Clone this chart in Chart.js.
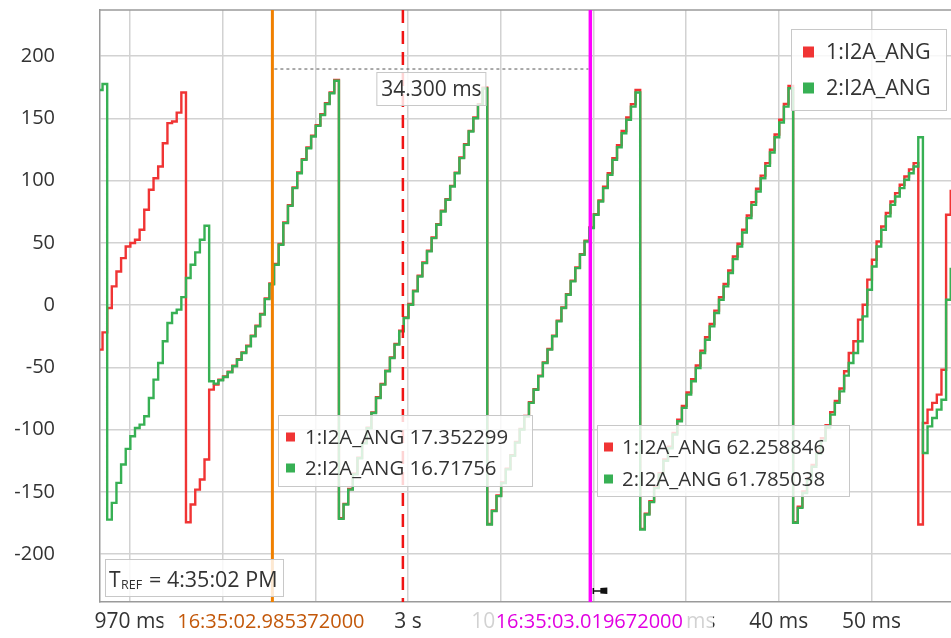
<!DOCTYPE html>
<html>
<head>
<meta charset="utf-8">
<title>I2A_ANG</title>
<script src="https://cdn.jsdelivr.net/npm/chart.js@4.4.1/dist/chart.umd.min.js"></script>
<style>
    html, body { margin: 0; padding: 0; background: #ffffff; overflow: hidden; }
    #wrap { position: relative; width: 951px; height: 638px; }
</style>
</head>
<body>
<div id="wrap"><canvas id="angleChart"></canvas></div>
<script>
/*
    Recorded samples (ms after 16:35:00), 0.5 ms sample clock
*/

const SAMPLE_START = 2966.55;

const SAMPLE_STEP = 0.5;

const SERIES_NAMES = ["1:I2A_ANG", "2:I2A_ANG"];

// 1:I2A_ANG (red)
const ch1Values = [
    -35.8, -21.9, -2.4, 15, 27, 37.7, 47.1, 49.8, 52.5, 60.5,
    76.5, 92.6, 101.9, 111.3, 130, 146.1, 147.4, 154.6, 170.7, -174.4,
    -160.2, -148.2, -140.1, -124.1, -67.9, -63.9, -60, -57.3, -53.5, -48.7,
    -43.4, -38, -32.7, -24.6, -16.6, -7.2, 5.4, 17.35, 33, 49,
    66.4, 80.3, 94.5, 106.5, 117.2, 126.6, 136, 144.5, 153.3, 162.1,
    170.7, 180.8, -171.2, -159.7, -147.7, -135.5, -122.5, -110.5, -98.5, -86.2,
    -74.1, -63.4, -52.7, -42, -31.3, -20.6, -9.9, 0.8, 11.5, 23.5,
    34.2, 43.6, 54.3, 65, 75.7, 85.1, 95.7, 106.4, 118.5, 129.2,
    139.9, 150.6, 161.3, 174.5, -175.8, -165, -153, -142.5, -131.5, -120.5,
    -110, -99.5, -89, -78.1, -67.5, -56.7, -46, -35.3, -24.6, -12.6,
    -1.9, 8.8, 19.5, 30.2, 40.9, 51.6, 62.26, 73, 84, 95,
    106, 118, 128.5, 139.8, 150.6, 161.4, 172.7, -179.8, -167.5, -157.5,
    -146, -135, -124, -113.8, -102.8, -92, -81, -70.2, -59.5, -48.6,
    -36.6, -25.9, -15.2, -4.5, 6.3, 17, 27.8, 39, 49.3, 60.5,
    72, 82.7, 93.4, 104, 114, 124.7, 137, 148.8, 161.5, 176,
    -174.4, -162, -149.8, -139, -128.4, -117.8, -107, -96.5, -86, -77,
    -67, -53.2, -38.5, -29.1, -11.7, 0.3, 20.4, 36.4, 51.1, 63.1,
    73.9, 83.2, 89.9, 96.6, 103.3, 109, 114, -176.3, -94.7, -84,
    -78.6, -71.9, -51.9, 72.5, 92.6
];

// 2:I2A_ANG (green)
const ch2Values = [
    172.8, 177.6, -172.3, -158.9, -142.8, -128.1, -115.5, -105.4, -98.7, -96,
    -89.3, -74.6, -59.9, -46.5, -29.1, -14.4, -6.4, -3.7, 6.4, 21.7,
    32.4, 42.3, 52.5, 63.7, -61.2, -63.1, -60.4, -57.8, -54, -49.2,
    -43.9, -38.5, -33.2, -25.1, -17.1, -7.7, 4.8, 16.72, 32.4, 48.4,
    65.8, 79.7, 93.9, 105.9, 116.6, 126, 135.4, 143.9, 152.7, 161.5,
    170.1, 180.2, -171.7, -160.2, -148.2, -136, -123, -111, -99, -86.7,
    -74.6, -63.9, -53.2, -42.5, -31.8, -21.1, -10.4, 0.3, 11, 23,
    33.7, 43.1, 53.8, 64.5, 75.2, 84.6, 95.2, 105.9, 118, 128.7,
    139.4, 150.1, 160.8, 174, -176.3, -165.5, -153.5, -143, -132, -121,
    -110.5, -100, -89.5, -78.6, -68, -57.2, -46.5, -35.8, -25.1, -13.1,
    -2.4, 8.3, 19, 29.7, 40.4, 51.1, 61.79, 72.5, 83.2, 93.9,
    104.6, 116.6, 126.8, 138, 148.8, 159.4, 170.7, -180.3, -168.2, -158.3,
    -147, -136, -125, -115, -104, -93.3, -82.6, -71.9, -61.2, -50.5,
    -38.5, -27.8, -17.1, -6.4, 4.3, 15, 25.7, 36.9, 47.1, 58.3,
    69.8, 80.5, 91.2, 101.9, 111.8, 122.5, 134.8, 146.6, 159.4, 174.2,
    -174.9, -162.9, -150.9, -140.4, -129.9, -119.4, -108.9, -98.4, -88, -78.6,
    -69.3, -56.7, -46.5, -38.5, -29.1, -9.1, 12.3, 31, 47.1, 60.5,
    71.2, 80.5, 87.2, 93.9, 100.6, 105.9, 111.3, 134.8, -118.8, -97.4,
    -90.7, -84, -76, 4.3, 30
];

// axes
const X_MIN = 2966.775;
const X_MAX = 3058.58;
const X_TICKS = [2970, 2980, 2990, 3000, 3010, 3020, 3030, 3040, 3050];
const X_TICK_LABELS = ["970 ms", "980 ms", "990 ms", "3 s", "10 ms", "20 ms", "30 ms", "40 ms", "50 ms"];

const Y_MIN = -238.5;
const Y_MAX = 237;
const Y_TICKS = [-200, -150, -100, -50, 0, 50, 100, 150, 200];

// cursors
const CURSOR_A_TIME = 2985.372;
const CURSOR_B_TIME = 3019.672;
const TRIGGER_TIME = 2999.45;
const CURSOR_A_LABEL = "16:35:02.985372000";
const CURSOR_B_LABEL = "16:35:03.019672000";
const CURSOR_A_VALUES = ["17.352299", "16.71756"];
const CURSOR_B_VALUES = ["62.258846", "61.785038"];
const DELTA_LABEL = "34.300 ms";
const DELTA_LEVEL = 190;
const TREF_TEXT = "= 4:35:02 PM";

/*
    Style
*/

const RED = "rgb(240, 52, 52)";
const GREEN = "rgb(55, 176, 84)";
const ORANGE = "rgb(240, 128, 0)";
const MAGENTA = "rgb(255, 0, 255)";
const TEXT = "#333333";
const FONT = '"Open Sans", "Noto Sans", sans-serif';

function toPoints(values) {
    return values.map((v, i) => ({ x: SAMPLE_START + i * SAMPLE_STEP, y: v }));
}

function box(ctx, x, y, w, h) {
    ctx.save();
    ctx.fillStyle = "rgba(255,255,255,0.82)";
    ctx.fillRect(x, y, w, h);
    ctx.strokeStyle = "#c8c8c8";
    ctx.lineWidth = 1;
    ctx.strokeRect(x + 0.5, y + 0.5, w - 1, h - 1);
    ctx.restore();
}

function vline(ctx, px, area, color, width, dash) {
    ctx.save();
    ctx.beginPath();
    ctx.strokeStyle = color;
    ctx.lineWidth = width;
    ctx.setLineDash(dash || []);
    ctx.moveTo(px, area.top);
    ctx.lineTo(px, area.bottom);
    ctx.stroke();
    ctx.restore();
}

function entryRows(ctx, x, rows, size, textX, lines, fontSize) {
    ctx.save();
    ctx.font = fontSize + "px " + FONT;
    ctx.textBaseline = "middle";
    ctx.textAlign = "left";
    [RED, GREEN].forEach((c, i) => {
        ctx.fillStyle = c;
        ctx.fillRect(x, rows[i] - size / 2, size, size);
        ctx.fillStyle = TEXT;
        ctx.fillText(lines[i], textX, rows[i] + 1);
    });
    ctx.restore();
}

// time label under a cursor: solid behind the text, faded at the sides
function cursorLabel(ctx, px, text, color, pad) {
    ctx.save();
    ctx.font = "20px " + FONT;
    const w = ctx.measureText(text).width;
    const left = px - w / 2;
    ctx.fillStyle = "rgba(255,255,255,0.78)";
    ctx.fillRect(left - pad, 607, pad, 31);
    ctx.fillRect(left + w, 607, pad, 31);
    ctx.fillStyle = "#ffffff";
    ctx.fillRect(left, 607, w, 31);
    ctx.fillStyle = color;
    ctx.textAlign = "center";
    ctx.textBaseline = "middle";
    ctx.fillText(text, px, 622);
    ctx.restore();
}

const overlayPlugin = {
    id: "cursorOverlay",
    afterDraw(chart) {
        const { ctx, chartArea: area, scales: { x, y } } = chart;
        const xa = x.getPixelForValue(CURSOR_A_TIME);
        const xb = x.getPixelForValue(CURSOR_B_TIME);

        // top border
        ctx.save();
        ctx.strokeStyle = "#9a9a9a";
        ctx.lineWidth = 1.5;
        ctx.beginPath();
        ctx.moveTo(area.left, area.top);
        ctx.lineTo(area.right, area.top);
        ctx.stroke();
        ctx.restore();

        vline(ctx, xa, area, ORANGE, 3);
        vline(ctx, x.getPixelForValue(TRIGGER_TIME), area, "rgb(240, 20, 20)", 2.5, [13, 8]);
        vline(ctx, xb, area, MAGENTA, 3.5);

        // delta measure
        const yd = y.getPixelForValue(DELTA_LEVEL);
        ctx.save();
        ctx.strokeStyle = "#555555";
        ctx.lineWidth = 1;
        ctx.setLineDash([3, 3]);
        ctx.beginPath();
        ctx.moveTo(xa + 2, yd + 0.5);
        ctx.lineTo(xb - 2, yd + 0.5);
        ctx.stroke();
        ctx.restore();

        const mid = (xa + xb) / 2;
        box(ctx, mid - 55, 72, 110, 34);
        ctx.save();
        ctx.font = "21px " + FONT;
        ctx.fillStyle = TEXT;
        ctx.textAlign = "center";
        ctx.textBaseline = "middle";
        ctx.fillText(DELTA_LABEL, mid, 90);
        ctx.restore();

        // legend
        box(ctx, 791, 29, 156, 82);
        entryRows(ctx, 803, [52, 88], 11, 826, SERIES_NAMES, 21.5);

        // cursor values
        box(ctx, 278, 415, 255, 72);
        entryRows(ctx, 286, [437, 468], 9, 305,
            SERIES_NAMES.map((n, i) => n + " " + CURSOR_A_VALUES[i]), 20.4);
        box(ctx, 597, 425, 253, 72);
        entryRows(ctx, 604, [447, 479], 9, 622,
            SERIES_NAMES.map((n, i) => n + " " + CURSOR_B_VALUES[i]), 20.4);

        // reference time
        box(ctx, 105, 559, 179, 38);
        ctx.save();
        ctx.fillStyle = TEXT;
        ctx.textBaseline = "alphabetic";
        ctx.font = "21px " + FONT;
        ctx.fillText("T", 109, 587);
        ctx.font = "12.5px " + FONT;
        ctx.fillText("REF", 121, 589);
        ctx.font = "21.5px " + FONT;
        ctx.fillText(TREF_TEXT, 149, 587);
        ctx.restore();

        // pin marker
        const py = area.bottom - 11;
        ctx.save();
        ctx.fillStyle = "#111111";
        ctx.strokeStyle = "#111111";
        ctx.lineWidth = 1.5;
        ctx.beginPath();
        ctx.moveTo(xb + 3, py - 3);
        ctx.lineTo(xb + 3, py + 3);
        ctx.moveTo(xb + 3, py);
        ctx.lineTo(xb + 11, py);
        ctx.stroke();
        ctx.beginPath();
        ctx.moveTo(xb + 10, py - 3);
        ctx.lineTo(xb + 17, py - 3.5);
        ctx.lineTo(xb + 17, py + 3);
        ctx.lineTo(xb + 10, py + 2.5);
        ctx.closePath();
        ctx.fill();
        ctx.restore();

        // cursor time labels
        cursorLabel(ctx, xa - 1.5, CURSOR_A_LABEL, "rgb(195, 88, 10)", 14);
        cursorLabel(ctx, xb - 1, CURSOR_B_LABEL, "rgb(225, 0, 225)", 30);
    }
};

const ctx = document.getElementById("angleChart").getContext("2d");

new Chart(ctx, {
    type: "line",
    data: {
        datasets: [
            {
                label: SERIES_NAMES[0],
                data: toPoints(ch1Values),
                borderColor: RED,
                borderWidth: 2.4,
                stepped: true,
                pointRadius: 0,
                order: 1
            },
            {
                label: SERIES_NAMES[1],
                data: toPoints(ch2Values),
                borderColor: GREEN,
                borderWidth: 2.4,
                stepped: true,
                pointRadius: 0,
                order: 0
            }
        ]
    },
    options: {
        responsive: true,
        maintainAspectRatio: false,
        animation: false,
        events: [],
        layout: { padding: { top: 10, right: 0, bottom: 0, left: 0 } },
        plugins: {
            legend: { display: false },
            tooltip: { enabled: false }
        },
        scales: {
            x: {
                type: "linear",
                min: X_MIN,
                max: X_MAX,
                afterBuildTicks: (s) => { s.ticks = X_TICKS.map((v) => ({ value: v })); },
                afterFit: (s) => {
                    s.height = 36;
                    s.paddingLeft = 0;
                    s.paddingRight = 0;
                },
                ticks: {
                    autoSkip: false,
                    maxRotation: 0,
                    minRotation: 0,
                    padding: 7,
                    color: TEXT,
                    font: { family: FONT, size: 21 },
                    callback: (v) => X_TICK_LABELS[X_TICKS.indexOf(v)]
                },
                grid: { color: "#d2d2d2", lineWidth: 1.5, drawTicks: false },
                border: { color: "#9a9a9a", width: 1.5 }
            },
            y: {
                type: "linear",
                min: Y_MIN,
                max: Y_MAX,
                afterBuildTicks: (s) => { s.ticks = Y_TICKS.map((v) => ({ value: v })); },
                afterFit: (s) => {
                    s.width = 100;
                    s.paddingTop = 0;
                    s.paddingBottom = 0;
                },
                ticks: {
                    padding: 45,
                    color: TEXT,
                    font: { family: FONT, size: 20 }
                },
                grid: { color: "#d2d2d2", lineWidth: 1.5, drawTicks: false },
                border: { color: "#9a9a9a", width: 1.5 }
            }
        }
    },
    plugins: [overlayPlugin]
});
</script>
</body>
</html>
